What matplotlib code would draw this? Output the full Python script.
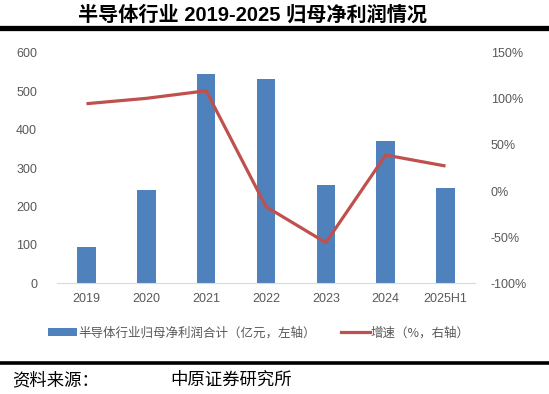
import matplotlib.pyplot as plt
from matplotlib.lines import Line2D
from matplotlib.patches import Patch

plt.rcParams['font.family'] = ['Liberation Sans', 'Noto Sans CJK SC', 'DejaVu Sans']

# 数据
years = ['2019', '2020', '2021', '2022', '2023', '2024', '2025H1']
profit = [95, 242, 546, 532, 255, 370, 247]          # 亿元
growth = [94.8, 100.6, 108.8, -16.9, -55.9, 39.1, 27.2]  # %

bar_color = '#4F81BD'
line_color = '#C0504D'
tick_color = '#595959'

fig = plt.figure(figsize=(5.49, 3.94), dpi=100)
ax = fig.add_axes([0.103, 0.281, 0.763, 0.585])

x = list(range(len(years)))
ax.bar(x, profit, width=0.31, color=bar_color, zorder=2)
ax.set_xlim(-0.5, len(years) - 0.5)
ax.set_ylim(0, 600)
ax.set_yticks(range(0, 601, 100))
ax.set_xticks(x)
ax.set_xticklabels(years)
for s in ['top', 'right', 'left']:
    ax.spines[s].set_visible(False)
ax.spines['bottom'].set_color('#D9D9D9')
ax.tick_params(axis='both', length=0, labelsize=9, colors=tick_color)
ax.tick_params(axis='y', pad=14)
ax.tick_params(axis='x', pad=7)

ax2 = ax.twinx()
ax2.plot(x, growth, color=line_color, lw=2.3, zorder=3, solid_capstyle='butt')
ax2.set_ylim(-100, 150)
ax2.set_yticks(range(-100, 151, 50))
ax2.set_yticklabels([f'{v}%' for v in range(-100, 151, 50)])
for s in ['top', 'right', 'left', 'bottom']:
    ax2.spines[s].set_visible(False)
ax2.tick_params(axis='y', length=0, labelsize=9, colors=tick_color, pad=11)

# 标题
fig.text(0.46, 0.962, '半导体行业 2019-2025 归母净利润情况', ha='center', va='center',
         fontsize=14.5, fontweight='bold', color='black')
fig.add_artist(Line2D([0, 1], [0.929, 0.929], transform=fig.transFigure, color='black', lw=3.8))

# 图例
handles = [Patch(facecolor=bar_color, edgecolor='none'),
           Line2D([0], [0], color=line_color, lw=2.3)]
labels = ['半导体行业归母净利润合计（亿元，左轴）', '增速（%，右轴）']
leg = fig.legend(handles, labels, loc='center', bbox_to_anchor=(0.472, 0.155), ncol=2,
                 frameon=False, fontsize=9.0, handlelength=2.3, handleheight=0.5,
                 handletextpad=0.1, columnspacing=2.0)
for t in leg.get_texts():
    t.set_color(tick_color)
    t.set_family(['Noto Sans CJK SC', 'DejaVu Sans'])

# 资料来源
fig.add_artist(Line2D([0, 1], [0.079, 0.079], transform=fig.transFigure, color='black', lw=2.6))
fig.text(0.022, 0.035, '资料来源：', ha='left', va='center', fontsize=12.5,
         family=['Noto Sans CJK SC', 'DejaVu Sans'])
fig.text(0.31, 0.035, '中原证券研究所', ha='left', va='center', fontsize=12.5,
         family=['Noto Sans CJK SC', 'DejaVu Sans'])

fig.savefig('out.png', dpi=100)
